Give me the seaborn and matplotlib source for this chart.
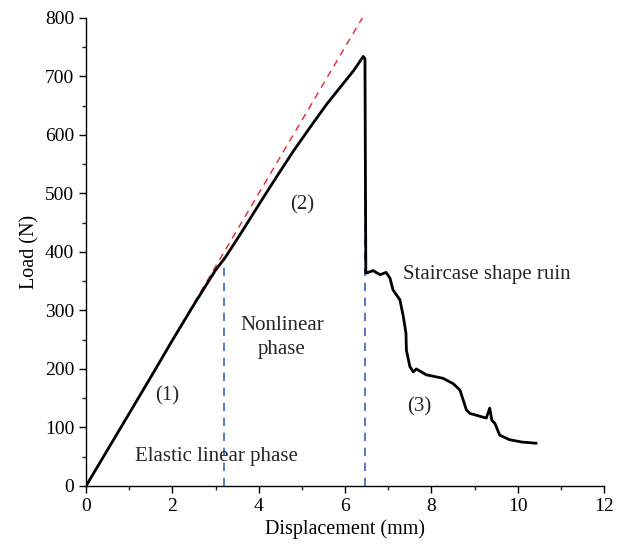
import matplotlib
matplotlib.use("Agg")
import matplotlib.pyplot as plt
import seaborn as sns
import pandas as pd
from matplotlib.ticker import MultipleLocator

# Load-displacement curve
displacement = [0.0, 0.5, 1.0, 1.5, 2.0, 2.5, 3.0, 3.22, 3.64, 4.03, 4.41, 4.80,
                5.19, 5.57, 5.96, 6.2, 6.42, 6.46, 6.48, 6.50, 6.65, 6.81,
                6.95, 7.04, 7.11, 7.27, 7.35, 7.41, 7.42, 7.50, 7.58, 7.65,
                7.88, 8.27, 8.50, 8.66, 8.81, 8.89, 9.27, 9.35, 9.40, 9.47,
                9.58, 9.81, 10.1, 10.43]
load = [0, 62, 124, 186, 249, 310, 369, 390, 438, 484, 528, 572,
        613, 652, 688, 710, 734, 730, 364, 364, 368, 361,
        365, 355, 335, 318, 289, 261, 232, 204, 195, 200,
        190, 184, 175, 164, 130, 124, 116, 133, 112, 107,
        87, 79, 75, 73]

# Elastic reference line (red dashed)
ref_x = [0.0, 6.4]
ref_y = [0, 800]

# Phase boundaries (blue dashed)
bound_x = [3.2, 6.45]
bound_top = [392, 735]

df = pd.DataFrame({"Displacement (mm)": displacement, "Load (N)": load})

sns.set_theme(style="ticks")
plt.rcParams["font.family"] = ["Liberation Serif", "DejaVu Serif"]

fig = plt.figure(figsize=(6.19, 5.57), dpi=100)
ax = fig.add_axes([0.139, 0.1275, 0.837, 0.8405])

sns.lineplot(x=ref_x, y=ref_y, ax=ax, color="#e8242a", linestyle=(0, (5, 4)),
             linewidth=1.0, zorder=2, estimator=None)
for bx, bt in zip(bound_x, bound_top):
    bdf = pd.DataFrame({"x": [bx, bx], "y": [0, bt]})
    sns.lineplot(data=bdf, x="x", y="y", ax=ax, color="#3a62c0",
                 linestyle=(0, (5, 4)), linewidth=1.2, zorder=1,
                 estimator=None, sort=False)
sns.lineplot(data=df, x="Displacement (mm)", y="Load (N)", ax=ax,
             color="black", linewidth=2.0, sort=False, zorder=3, estimator=None)

ax.set_xlim(0, 12)
ax.set_ylim(0, 800)
ax.xaxis.set_major_locator(MultipleLocator(2))
ax.xaxis.set_minor_locator(MultipleLocator(1))
ax.yaxis.set_major_locator(MultipleLocator(100))
ax.yaxis.set_minor_locator(MultipleLocator(50))
ax.tick_params(which="major", direction="out", length=5, width=1, labelsize=14,
               colors="black")
ax.tick_params(which="minor", direction="out", length=3, width=1)
ax.set_xlabel("Displacement (mm)", fontsize=14.5, color="black", labelpad=3)
ax.set_ylabel("Load (N)", fontsize=14.5, color="black", labelpad=4)
sns.despine(ax=ax)
for s in ("left", "bottom"):
    ax.spines[s].set_color("black")
    ax.spines[s].set_linewidth(1.0)

fs = 15
ax.text(1.88, 154, "(1)", fontsize=fs, ha="center", va="center")
ax.text(5.0, 480, "(2)", fontsize=fs, ha="center", va="center")
ax.text(7.71, 135, "(3)", fontsize=fs, ha="center", va="center")
ax.text(3.03, 50, "Elastic linear phase", fontsize=fs, ha="center", va="center")
ax.text(4.54, 253, "Nonlinear\nphase", fontsize=fs, ha="center", va="center",
        linespacing=1.35)
ax.text(7.34, 362, "Staircase shape ruin", fontsize=fs, ha="left", va="center")

fig.savefig("out.png", dpi=100)
